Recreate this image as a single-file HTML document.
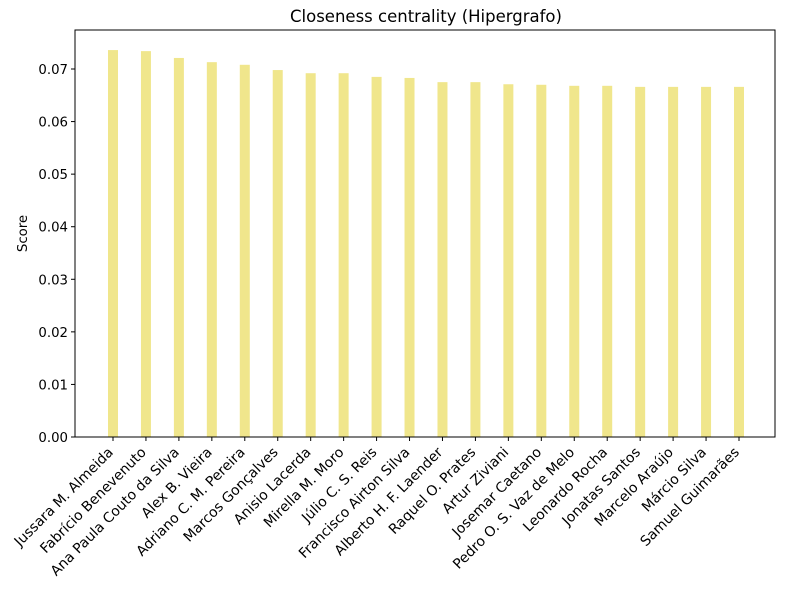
<!DOCTYPE html>
<html><head><meta charset="utf-8"><style>
body{margin:0;background:#fff;font-family:"DejaVu Sans","Liberation Sans",sans-serif;}
</style></head><body>
<svg id="chart" width="785" height="590" xmlns="http://www.w3.org/2000/svg" font-family="DejaVu Sans, Liberation Sans, sans-serif"></svg>
<script>
const categories=["Jussara M. Almeida","Fabrício Benevenuto","Ana Paula Couto da Silva","Alex B. Vieira","Adriano C. M. Pereira","Marcos Gonçalves","Anisio Lacerda","Mirella M. Moro","Júlio C. S. Reis","Francisco Airton Silva","Alberto H. F. Laender","Raquel O. Prates","Artur Ziviani","Josemar Caetano","Pedro O. S. Vaz de Melo","Leonardo Rocha","Jonatas Santos","Marcelo Araújo","Márcio Silva","Samuel Guimarães"];
const scores=[0.0736,0.0734,0.0721,0.0713,0.0708,0.0698,0.0692,0.0692,0.0685,0.0683,0.0675,0.0675,0.0671,0.0670,0.0668,0.0668,0.0666,0.0666,0.0666,0.0666];
const yTicks=[0,0.01,0.02,0.03,0.04,0.05,0.06,0.07];
const yTickLabels=["0.00","0.01","0.02","0.03","0.04","0.05","0.06","0.07"];

const svg=document.getElementById('chart');
const NS="http://www.w3.org/2000/svg";
const L=75,R=775,T=30,B=437;
const y=v=>B-v*(B-69)/0.07;
const x=i=>113+i*(739-113)/(categories.length-1);
function mk(tag,attrs,parent){const e=document.createElementNS(NS,tag);for(const k in attrs)e.setAttribute(k,attrs[k]);(parent||svg).appendChild(e);return e;}

const title=mk('text',{x:(L+R)/2+1,y:22,'text-anchor':'middle','font-size':16.5,fill:'#000'});


title.textContent="Closeness centrality (Hipergrafo)";

const bars=mk('g',{});


scores.forEach((v,i)=>{
  const r=mk('rect',{x:x(i)-5,y:y(v),width:10,height:B-y(v),fill:'#f0e68c'},bars);
  
  
});

const frame=mk('rect',{x:L,y:T,width:R-L,height:B-T,fill:'none',stroke:'#000','stroke-width':1});



const ya=mk('g',{});


yTicks.forEach((v,i)=>{
  mk('line',{x1:L-4,x2:L,y1:y(v),y2:y(v),stroke:'#000'},ya);
  const t=mk('text',{x:L-7,y:y(v)+5,'text-anchor':'end','font-size':13.3},ya);
  
  
  t.textContent=yTickLabels[i];
});
const yt=mk('text',{x:27,y:(T+B)/2,'text-anchor':'middle','font-size':13.3,transform:`rotate(-90 27 ${(T+B)/2})`});


yt.textContent="Score";

const xa=mk('g',{});


categories.forEach((c,i)=>{
  mk('line',{x1:x(i),x2:x(i),y1:B,y2:B+4,stroke:'#000'},xa);
  const ax=x(i)+1, ay=B+16;
  const t=mk('text',{x:ax,y:ay,'text-anchor':'end','font-size':14,transform:`rotate(-45 ${ax} ${ay})`},xa);
  
  
  t.textContent=c;
});
</script>
</body></html>
